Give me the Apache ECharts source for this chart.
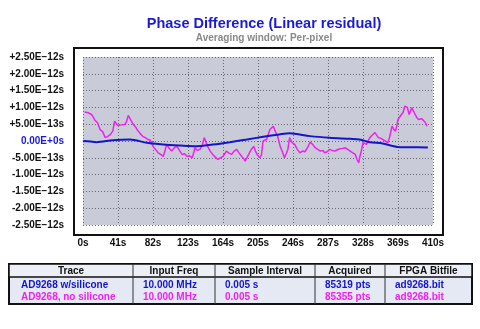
<!DOCTYPE html>
<html><head><meta charset="utf-8">
<script src="https://cdn.jsdelivr.net/npm/echarts@6/dist/echarts.min.js"></script>
<style>html,body{margin:0;padding:0;background:#fff}#c{width:480px;height:329px}</style>
</head><body><div id="c"></div>
<script>
// Units: 1e-12 s
var yTickLabels = ['-2.50E\u221212s','-2.00E\u221212s','-1.50E\u221212s','-1.00E\u221212s','-5.00E\u221213s','0.00E+0s','+5.00E\u221213s','+1.00E\u221212s','+1.50E\u221212s','+2.00E\u221212s','+2.50E\u221212s'];
var xTickLabels = ['0s','41s','82s','123s','164s','205s','246s','287s','328s','369s','410s'];

var blueTime = [0,2,16,35,55,75,94,114,133,152,172,192,211,230,242,266,289,313,324,336,351,368,383,404];
var blueVals = [-0.02,0,-0.035,0.025,0.045,-0.055,-0.105,-0.135,-0.155,-0.105,-0.035,0.045,0.125,0.195,0.23,0.145,0.095,0.065,0.045,-0.035,-0.075,-0.175,-0.185,-0.19];

var magTime = [2,6,10,14,17,20,23,26,29,32,35,37,39,41,43,45,47,49,51,53,56,59,62,64,67,70,73,76,79,82,85,88,91,94,96,98,101,104,107,110,113,116,119,122,125,128,130,131,134,137,140,142,144,146,149,152,155,158,161,164,166,168,171,174,177,180,183,186,188,190,193,196,198,200,202,204,207,209,211,213,215,217,219,221,223,225,228,231,234,236,238,240,242,245,248,251,254,257,260,263,266,269,272,275,278,281,283,286,289,292,295,298,301,304,307,310,313,316,319,321,323,324,326,328,330,332,334,336,339,342,344,346,349,351,354,357,359,362,364,366,368,369,371,373,375,377,379,380,382,383,385,387,389,391,393,395,397,399,401,403];
var magVals = [0.86,0.84,0.79,0.62,0.54,0.34,0.28,0.10,0.14,0.19,0.30,0.59,0.52,0.46,0.44,0.48,0.44,0.49,0.58,0.76,0.62,0.49,0.40,0.32,0.22,0.14,0.10,0.045,0.02,-0.16,-0.25,-0.35,-0.40,-0.46,-0.30,-0.10,-0.22,-0.30,-0.20,-0.16,-0.28,-0.40,-0.38,-0.46,-0.44,-0.50,-0.32,-0.20,-0.28,-0.25,-0.10,0.10,0.05,-0.16,-0.30,-0.40,-0.48,-0.55,-0.50,-0.46,-0.38,-0.30,-0.36,-0.40,-0.30,-0.25,-0.36,-0.46,-0.52,-0.60,-0.45,-0.30,-0.22,-0.16,-0.30,-0.40,-0.50,-0.42,0.00,0.05,0.045,0.20,0.34,0.38,0.44,0.30,0.14,-0.16,-0.35,-0.50,-0.38,-0.25,0.10,-0.05,-0.10,-0.25,-0.35,-0.30,-0.32,-0.20,-0.035,-0.10,-0.20,-0.25,-0.30,-0.28,-0.35,-0.32,-0.25,-0.28,-0.30,-0.26,-0.23,-0.22,-0.20,-0.25,-0.30,-0.35,-0.40,-0.55,-0.65,-0.50,-0.30,-0.05,-0.08,-0.10,0.00,0.10,0.18,0.25,0.20,0.10,0.08,0.045,0.00,-0.05,0.10,0.44,0.35,0.29,0.50,0.64,0.60,0.79,0.85,1.04,1.09,1.00,0.79,0.85,0.99,0.90,0.79,0.70,0.64,0.69,0.66,0.69,0.55,0.44];

var tableCols = ['Trace','Input Freq','Sample Interval','Acquired','FPGA Bitfile'];
var row1 = ['AD9268 w/silicone','10.000 MHz','0.005 s','85319 pts','ad9268.bit'];
var row2 = ['AD9268, no silicone','10.000 MHz','0.005 s','85355 pts','ad9268.bit'];

function pairs(t, v){ var out=[]; for(var i=0;i<t.length;i++) out.push([t[i],v[i]]); return out; }

var BLUE = '#1515c8', MAG = '#f020f0';
var FONT = '"Liberation Sans", Arial, sans-serif';
var colX = [9,133,215,315,385,472];
var tableG = [];
tableG.push({type:'rect', shape:{x:9,y:264,width:463,height:40}, style:{fill:'#e4e9f3', stroke:'#111', lineWidth:2}, z:1});
tableG.push({type:'rect', shape:{x:9,y:264,width:463,height:13}, style:{fill:'#eceff5', stroke:'#111', lineWidth:1.5}, z:2});
for (var c=1;c<5;c++) tableG.push({type:'line', shape:{x1:colX[c],y1:264,x2:colX[c],y2:304}, style:{stroke:'#333',lineWidth:1}, z:3});
for (var c=0;c<5;c++){
  tableG.push({type:'text', x:(colX[c]+colX[c+1])/2, y:271, style:{text:tableCols[c], font:'bold 10px '+FONT, fill:'#111', align:'center', verticalAlign:'middle'}, z:4});
  var lx = c===0 ? 21 : colX[c]+10;
  tableG.push({type:'text', x:lx, y:285, style:{text:row1[c], font:'bold 10px '+FONT, fill:BLUE, align:'left', verticalAlign:'middle'}, z:4});
  tableG.push({type:'text', x:lx, y:297, style:{text:row2[c], font:'bold 10px '+FONT, fill:MAG, align:'left', verticalAlign:'middle'}, z:4});
}
// frame box around plot (with heavier bottom/right edge)
var frameG = [
  {type:'rect', shape:{x:74,y:48,width:369,height:187}, style:{fill:'#fff', stroke:'#111', lineWidth:2}, z:-1, silent:true},
  {type:'line', shape:{x1:75,y1:235.5,x2:444,y2:235.5}, style:{stroke:'#111', lineWidth:1}, z:-1, silent:true},
  {type:'line', shape:{x1:443.5,y1:49,x2:443.5,y2:236}, style:{stroke:'#111', lineWidth:1}, z:-1, silent:true}
];

var chart = echarts.init(document.getElementById('c'), null, {renderer:'canvas'});
chart.setOption({
  animation:false,
  backgroundColor:'#fff',
  title:[
    {text:'Phase Difference (Linear residual)', left:259, top:11, textAlign:'center', textStyle:{color:'#1a1ad6', fontSize:14.5, fontWeight:'bold', fontFamily:FONT}},
    {text:'Averaging window: Per-pixel', left:259, top:28, textAlign:'center', textStyle:{color:'#888', fontSize:10, fontWeight:'bold', fontFamily:FONT}}
  ],
  graphic: frameG.concat(tableG),
  grid:{left:83, right:47, top:57, bottom:104, show:true, backgroundColor:'#c9ccd8', borderWidth:0, z:0},
  xAxis:{type:'value', min:0, max:410, interval:41,
    axisLine:{show:false}, axisTick:{show:false},
    axisLabel:{margin:13, fontSize:10, fontWeight:'bold', color:'#111', fontFamily:FONT,
      formatter:function(v){ return xTickLabels[Math.round(v/41)]; }},
    splitLine:{show:true, lineStyle:{color:'#6a6a70', type:[1,2], width:1}}
  },
  yAxis:{type:'value', min:-2.5, max:2.5, interval:0.5,
    axisLine:{show:false}, axisTick:{show:false},
    axisLabel:{margin:19, fontSize:10, fontWeight:'bold', fontFamily:FONT,
      color:function(v){ return Math.abs(v)<1e-9 ? '#1a1ad6' : '#111'; },
      formatter:function(v){ return yTickLabels[Math.round((v+2.5)/0.5)]; }},
    splitLine:{show:true, lineStyle:{color:'#6a6a70', type:[1,2], width:1}}
  },
  series:[
    {type:'line', data:pairs(magTime, magVals), showSymbol:false, lineStyle:{color:MAG, width:1.5}, z:3},
    {type:'line', data:pairs(blueTime, blueVals), showSymbol:false, smooth:0.3, lineStyle:{color:BLUE, width:2}, z:4}
  ]
});
</script></body></html>
